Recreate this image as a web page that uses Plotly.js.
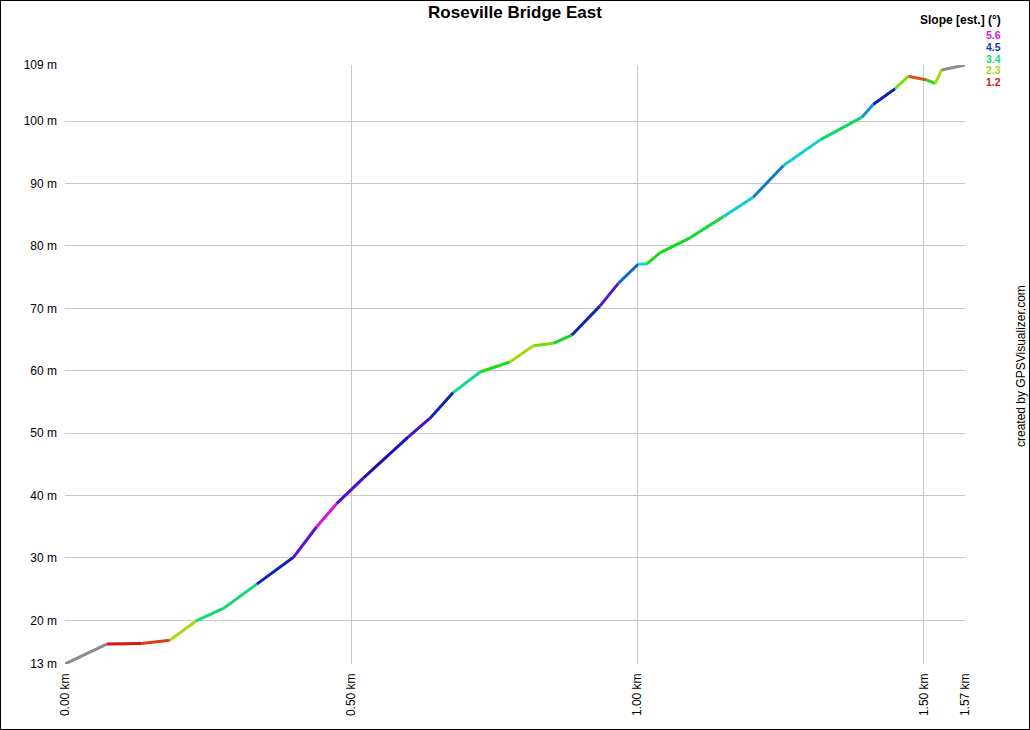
<!DOCTYPE html>
<html>
<head>
<meta charset="utf-8">
<script src="https://cdn.plot.ly/plotly-3.0.1.min.js"></script>
<style>
  html, body { margin: 0; padding: 0; background: #fff; }
  #wrap { position: relative; width: 1030px; height: 730px; }
  #chart { position: absolute; left: 0; top: 0; width: 1030px; height: 730px; }
  #frame { position: absolute; left: 0; top: 0; width: 1030px; height: 730px; box-sizing: border-box; border: 1px solid #000; pointer-events: none; z-index: 10; }
</style>
</head>
<body>
<div id="wrap"><div id="chart"></div><div id="frame"></div></div>
<script>
// Track points: distance (km) and elevation (m)
const distanceKm = [0, 0.073, 0.134, 0.183, 0.229, 0.2766, 0.335, 0.399, 0.4396, 0.4745,
  0.521, 0.5997, 0.6376, 0.678, 0.725, 0.777, 0.818, 0.853, 0.885, 0.9345,
  0.9665, 1.0014, 1.016, 1.039, 1.092, 1.150, 1.202, 1.255, 1.319, 1.3916,
  1.412, 1.450, 1.473, 1.505, 1.520, 1.531, 1.572];
const elevationM = [13, 16.2, 16.3, 16.8, 19.9, 21.9, 25.8, 30.1, 35.0, 38.7,
  42.8, 49.4, 52.4, 56.5, 59.8, 61.4, 64.0, 64.4, 65.7, 70.4,
  74.0, 77.1, 77.1, 78.9, 81.3, 84.7, 87.8, 92.9, 97.0, 100.6,
  102.7, 105.2, 107.2, 106.6, 106.0, 108.2, 109.0];
// Estimated slope (degrees) for each segment between consecutive points (null = no estimate, grey)
const segmentSlope = [null, 1.2, 1.4, 2.3, 3.4, 3.4, 4.6, 5.1, 5.6,
  5.0, 4.8, 5.0, 4.6, 3.5, 2.9, 2.3, 2.5, 3.0, 4.6,
  5.1, 4.3, 3.8, 2.9, 3.0, 3.1, 3.9, 4.2, 3.9, 3.3,
  4.1, 4.6, 2.5, 1.5, 2.9, 2.3, null];
// Legend
const legendSlopes = [5.6, 4.5, 3.4, 2.3, 1.2];
// Axis ticks
const xTickVals = [0, 0.5, 1.0, 1.5, 1.572];
const xTickText = ['0.00 km', '0.50 km', '1.00 km', '1.50 km', '1.57 km'];
const yTickVals = [13, 20, 30, 40, 50, 60, 70, 80, 90, 100, 109];
const yTickText = yTickVals.map(v => v + ' m');

const SMIN = 1.2, SMAX = 5.6;
function slopeColor(s) {
  if (s === null) return '#8c8c8c';
  const t = Math.max(0, Math.min(1, (s - SMIN) / (SMAX - SMIN)));
  const h = t * 300;
  const l = 46 - 8 * Math.exp(-Math.pow((h - 235) / 30, 2));
  return 'hsl(' + h.toFixed(0) + ',85%,' + l.toFixed(0) + '%)';
}

const traces = [];
for (let i = 0; i < distanceKm.length - 1; i++) {
  traces.push({
    type: 'scatter', mode: 'lines',
    x: [distanceKm[i], distanceKm[i + 1]],
    y: [elevationM[i], elevationM[i + 1]],
    line: { color: slopeColor(segmentSlope[i]), width: 3 },
    hoverinfo: 'skip', showlegend: false
  });
}

// plot area in pixels: left 65, right 965, top 65, bottom 664
const PL = 65, PR = 965, PT = 65, PB = 664;
const px = x => (x - PL) / (PR - PL);
const py = y => (PB - y) / (PB - PT);
const FONT = 'Liberation Sans, Arial, sans-serif';

const annotations = [{
  xref: 'paper', yref: 'paper', x: px(1002), y: py(20), xanchor: 'right', yanchor: 'middle',
  text: '<b>Slope [est.] (°)</b>', showarrow: false, borderpad: 0,
  font: { family: FONT, size: 12, color: '#000' }
}];
const legendY = [35, 47, 58.5, 70, 82];
legendSlopes.forEach((s, i) => {
  annotations.push({
    xref: 'paper', yref: 'paper', x: px(1002), y: py(legendY[i]), xanchor: 'right', yanchor: 'middle',
    text: '<b>' + s.toFixed(1) + '</b>', showarrow: false, borderpad: 0,
    font: { family: FONT, size: 10.5, color: slopeColor(s) }
  });
});
annotations.push({
  xref: 'paper', yref: 'paper', x: px(1021), y: py(366), xanchor: 'center', yanchor: 'middle',
  text: 'created by GPSVisualizer.com', textangle: -90, showarrow: false,
  font: { family: FONT, size: 12, color: '#000' }
});

const layout = {
  width: 1030, height: 730,
  margin: { l: PL, r: 1030 - PR, t: PT, b: 730 - PB, pad: 0 },
  paper_bgcolor: '#fff', plot_bgcolor: '#fff',
  font: { family: FONT, size: 11, color: '#111' },
  title: {
    text: '<b>Roseville Bridge East</b>',
    font: { family: FONT, size: 17, color: '#000' },
    x: 0.5, xanchor: 'center', xref: 'container',
    y: 1 - 12 / 730, yanchor: 'middle', yref: 'container'
  },
  xaxis: {
    range: [0, 1.572], tickmode: 'array', tickvals: xTickVals, ticktext: xTickText,
    tickangle: -90, showgrid: true, gridcolor: '#c8c8c8', gridwidth: 1,
    zeroline: false, showline: false, ticks: '', ticklabelstandoff: 6,
    tickfont: { size: 12, color: '#000' }, fixedrange: true
  },
  yaxis: {
    range: [13, 109], tickmode: 'array', tickvals: yTickVals, ticktext: yTickText,
    showgrid: true, gridcolor: '#c8c8c8', gridwidth: 1,
    zeroline: false, showline: false, ticks: '', ticklabelstandoff: 7,
    tickfont: { size: 12, color: '#000' }, fixedrange: true
  },
  annotations: annotations,
  showlegend: false
};

Plotly.newPlot('chart', traces, layout, { displayModeBar: false, staticPlot: true });
</script>
</body>
</html>
